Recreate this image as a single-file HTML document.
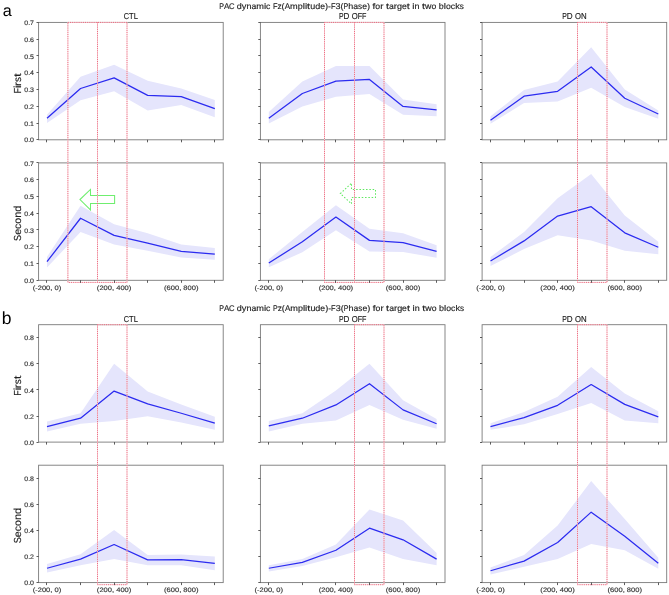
<!DOCTYPE html><html><head><meta charset="utf-8"><style>html,body{margin:0;padding:0;background:#fff;}svg{display:block;will-change:transform;}text{font-family:"Liberation Sans",sans-serif;text-rendering:geometricPrecision;}.k{stroke:currentColor;stroke-width:0.14px;}</style></head><body>
<svg width="669" height="595" viewBox="0 0 669 595">
<rect width="669" height="595" fill="#fff"/>
<text x="2.7" y="15.6" font-size="16.2" fill="#000">a</text>
<g transform="translate(219.3,8.8)" font-size="8.3" fill="#222" color="#222" class="k"><text transform="translate(0,0) scale(0.857,1)">P</text><text transform="translate(4.75,0) scale(0.972,1)">A</text><text transform="translate(9.63,0) scale(0.917,1)">C</text><text transform="translate(17.48,0) scale(1.082,1)">d</text><text transform="translate(22.48,0) scale(1.122,1)">y</text><text transform="translate(27.14,0) scale(1.081,1)">n</text><text transform="translate(32.13,0) scale(1.045,1)">a</text><text transform="translate(36.95,0) scale(1.109,1)">m</text><text transform="translate(44.61,0) scale(1.186,1)">i</text><text transform="translate(46.8,0) scale(1.043,1)">c</text><text transform="translate(53.63,0) scale(0.893,1)">F</text><text transform="translate(58.16,0) scale(0.995,1)">z</text><text transform="translate(62.29,0) scale(1.111,1)">(</text><text transform="translate(65.36,0) scale(0.972,1)">A</text><text transform="translate(70.74,0) scale(1.109,1)">m</text><text transform="translate(78.41,0) scale(1.082,1)">p</text><text transform="translate(83.4,0) scale(1.186,1)">l</text><text transform="translate(85.59,0) scale(1.186,1)">i</text><text transform="translate(87.78,0) scale(1.300,1)">t</text><text transform="translate(90.86,0) scale(1.081,1)">u</text><text transform="translate(95.85,0) scale(1.082,1)">d</text><text transform="translate(100.85,0) scale(1.049,1)">e</text><text transform="translate(105.69,0) scale(1.111,1)">)</text><text transform="translate(108.76,0) scale(1.027,1)">-</text><text transform="translate(111.6,0) scale(0.893,1)">F</text><text transform="translate(116.13,0) scale(1.085,1)">3</text><text transform="translate(121.13,0) scale(1.111,1)">(</text><text transform="translate(124.2,0) scale(0.857,1)">P</text><text transform="translate(128.95,0) scale(1.081,1)">h</text><text transform="translate(133.94,0) scale(1.045,1)">a</text><text transform="translate(138.76,0) scale(0.988,1)">s</text><text transform="translate(142.86,0) scale(1.049,1)">e</text><text transform="translate(147.7,0) scale(1.111,1)">)</text><text transform="translate(153.27,0) scale(1.201,1)">f</text><text transform="translate(156.04,0) scale(1.043,1)">o</text><text transform="translate(160.86,0) scale(1.171,1)">r</text><text transform="translate(166.6,0) scale(1.300,1)">t</text><text transform="translate(169.68,0) scale(1.045,1)">a</text><text transform="translate(174.51,0) scale(1.171,1)">r</text><text transform="translate(177.74,0) scale(1.082,1)">g</text><text transform="translate(182.6,0) scale(1.049,1)">e</text><text transform="translate(187.44,0) scale(1.300,1)">t</text><text transform="translate(193.03,0) scale(1.186,1)">i</text><text transform="translate(195.21,0) scale(1.081,1)">n</text><text transform="translate(202.7,0) scale(1.300,1)">t</text><text transform="translate(205.79,0) scale(1.074,1)">w</text><text transform="translate(212.23,0) scale(1.043,1)">o</text><text transform="translate(219.54,0) scale(1.082,1)">b</text><text transform="translate(224.54,0) scale(1.186,1)">l</text><text transform="translate(226.72,0) scale(1.043,1)">o</text><text transform="translate(231.54,0) scale(1.043,1)">c</text><text transform="translate(235.87,0) scale(1.098,1)">k</text><text transform="translate(240.42,0) scale(0.988,1)">s</text></g>
<polygon points="46.99,114.64 80.55,76.74 114.12,64.83 147.68,80.76 181.25,88.48 214.81,100.05 214.81,117.33 181.25,105.08 147.68,110.45 114.12,91.16 80.55,100.22 46.99,123.03" fill="#e5e5fc"/>
<polyline points="46.99,118.33 80.55,88.48 114.12,77.91 147.68,95.36 181.25,96.7 214.81,108.61" fill="none" stroke="#2b2bf0" stroke-width="1.25" stroke-linejoin="round"/>
<rect x="38.6" y="22.4" width="184.6" height="117.4" fill="none" stroke="#7a7a7a" stroke-width="0.9"/>
<g transform="translate(34,142.4)" font-size="6.4" fill="#333" color="#333" class="k"><text transform="translate(-9.78,0) scale(1.099,1)">0</text><text transform="translate(-5.87,0) scale(1.099,1)">.</text><text transform="translate(-3.91,0) scale(1.099,1)">0</text></g>
<g transform="translate(34,125.63)" font-size="6.4" fill="#333" color="#333" class="k"><text transform="translate(-9.78,0) scale(1.099,1)">0</text><text transform="translate(-5.87,0) scale(1.099,1)">.</text><text transform="translate(-3.91,0) scale(1.099,1)">1</text></g>
<g transform="translate(34,108.86)" font-size="6.4" fill="#333" color="#333" class="k"><text transform="translate(-9.78,0) scale(1.099,1)">0</text><text transform="translate(-5.87,0) scale(1.099,1)">.</text><text transform="translate(-3.91,0) scale(1.099,1)">2</text></g>
<g transform="translate(34,92.09)" font-size="6.4" fill="#333" color="#333" class="k"><text transform="translate(-9.78,0) scale(1.099,1)">0</text><text transform="translate(-5.87,0) scale(1.099,1)">.</text><text transform="translate(-3.91,0) scale(1.099,1)">3</text></g>
<g transform="translate(34,75.31)" font-size="6.4" fill="#333" color="#333" class="k"><text transform="translate(-9.78,0) scale(1.099,1)">0</text><text transform="translate(-5.87,0) scale(1.099,1)">.</text><text transform="translate(-3.91,0) scale(1.099,1)">4</text></g>
<g transform="translate(34,58.54)" font-size="6.4" fill="#333" color="#333" class="k"><text transform="translate(-9.78,0) scale(1.099,1)">0</text><text transform="translate(-5.87,0) scale(1.099,1)">.</text><text transform="translate(-3.91,0) scale(1.099,1)">5</text></g>
<g transform="translate(34,41.77)" font-size="6.4" fill="#333" color="#333" class="k"><text transform="translate(-9.78,0) scale(1.099,1)">0</text><text transform="translate(-5.87,0) scale(1.099,1)">.</text><text transform="translate(-3.91,0) scale(1.099,1)">6</text></g>
<g transform="translate(34,25)" font-size="6.4" fill="#333" color="#333" class="k"><text transform="translate(-9.78,0) scale(1.099,1)">0</text><text transform="translate(-5.87,0) scale(1.099,1)">.</text><text transform="translate(-3.91,0) scale(1.099,1)">7</text></g>
<g transform="translate(130.9,19.45)" font-size="8.6" fill="#222" color="#222" class="k"><text transform="translate(-7.09,0) scale(0.854,1)">C</text><text transform="translate(-1.78,0) scale(0.884,1)">T</text><text transform="translate(2.86,0) scale(0.885,1)">L</text></g>
<polygon points="268.79,111.96 302.35,81.6 335.92,66.01 369.48,66.01 403.05,99.55 436.61,104.24 436.61,116.15 403.05,114.64 369.48,94.01 335.92,96.87 302.35,106.42 268.79,123.53" fill="#e5e5fc"/>
<polyline points="268.79,118.33 302.35,93.51 335.92,81.1 369.48,79.42 403.05,106.42 436.61,109.78" fill="none" stroke="#2b2bf0" stroke-width="1.25" stroke-linejoin="round"/>
<rect x="260.4" y="22.4" width="184.6" height="117.4" fill="none" stroke="#7a7a7a" stroke-width="0.9"/>
<g transform="translate(352.7,19.45)" font-size="8.6" fill="#222" color="#222" class="k"><text transform="translate(-13.79,0) scale(0.800,1)">P</text><text transform="translate(-9.21,0) scale(0.942,1)">D</text><text transform="translate(-0.94,0) scale(0.894,1)">O</text><text transform="translate(5.04,0) scale(0.832,1)">F</text><text transform="translate(9.42,0) scale(0.832,1)">F</text></g>
<polygon points="490.49,116.15 524.05,89.99 557.62,81.6 591.18,47.22 624.75,89.49 658.31,110.62 658.31,118.84 624.75,106.93 591.18,87.81 557.62,101.56 524.05,102.9 490.49,123.87" fill="#e5e5fc"/>
<polyline points="490.49,120.18 524.05,96.19 557.62,91.33 591.18,67.01 624.75,98.21 658.31,113.97" fill="none" stroke="#2b2bf0" stroke-width="1.25" stroke-linejoin="round"/>
<rect x="482.1" y="22.4" width="184.6" height="117.4" fill="none" stroke="#7a7a7a" stroke-width="0.9"/>
<g transform="translate(574.4,19.45)" font-size="8.6" fill="#222" color="#222" class="k"><text transform="translate(-12.26,0) scale(0.800,1)">P</text><text transform="translate(-7.68,0) scale(0.942,1)">D</text><text transform="translate(0.59,0) scale(0.894,1)">O</text><text transform="translate(6.57,0) scale(0.915,1)">N</text></g>
<g transform="translate(20.6,83.4) rotate(-90)" font-size="10.2" fill="#222" color="#222" class="k"><text transform="translate(-10.1,0) scale(0.886,1)">F</text><text transform="translate(-4.58,0) scale(1.177,1)">i</text><text transform="translate(-2.61,0) scale(1.162,1)">r</text><text transform="translate(1.34,0) scale(0.981,1)">s</text><text transform="translate(6.34,0) scale(1.300,1)">t</text></g>
<polygon points="46.99,256.99 80.55,205.83 114.12,224.28 147.68,233.34 181.25,244.41 214.81,248.1 214.81,259.67 181.25,257.49 147.68,250.78 114.12,244.41 80.55,232 46.99,267.39" fill="#e5e5fc"/>
<polyline points="46.99,261.68 80.55,218.25 114.12,235.35 147.68,243.07 181.25,251.45 214.81,254.14" fill="none" stroke="#2b2bf0" stroke-width="1.25" stroke-linejoin="round"/>
<rect x="38.6" y="162.9" width="184.6" height="117.4" fill="none" stroke="#7a7a7a" stroke-width="0.9"/>
<g transform="translate(34,282.9)" font-size="6.4" fill="#333" color="#333" class="k"><text transform="translate(-9.78,0) scale(1.099,1)">0</text><text transform="translate(-5.87,0) scale(1.099,1)">.</text><text transform="translate(-3.91,0) scale(1.099,1)">0</text></g>
<g transform="translate(34,266.13)" font-size="6.4" fill="#333" color="#333" class="k"><text transform="translate(-9.78,0) scale(1.099,1)">0</text><text transform="translate(-5.87,0) scale(1.099,1)">.</text><text transform="translate(-3.91,0) scale(1.099,1)">1</text></g>
<g transform="translate(34,249.36)" font-size="6.4" fill="#333" color="#333" class="k"><text transform="translate(-9.78,0) scale(1.099,1)">0</text><text transform="translate(-5.87,0) scale(1.099,1)">.</text><text transform="translate(-3.91,0) scale(1.099,1)">2</text></g>
<g transform="translate(34,232.59)" font-size="6.4" fill="#333" color="#333" class="k"><text transform="translate(-9.78,0) scale(1.099,1)">0</text><text transform="translate(-5.87,0) scale(1.099,1)">.</text><text transform="translate(-3.91,0) scale(1.099,1)">3</text></g>
<g transform="translate(34,215.81)" font-size="6.4" fill="#333" color="#333" class="k"><text transform="translate(-9.78,0) scale(1.099,1)">0</text><text transform="translate(-5.87,0) scale(1.099,1)">.</text><text transform="translate(-3.91,0) scale(1.099,1)">4</text></g>
<g transform="translate(34,199.04)" font-size="6.4" fill="#333" color="#333" class="k"><text transform="translate(-9.78,0) scale(1.099,1)">0</text><text transform="translate(-5.87,0) scale(1.099,1)">.</text><text transform="translate(-3.91,0) scale(1.099,1)">5</text></g>
<g transform="translate(34,182.27)" font-size="6.4" fill="#333" color="#333" class="k"><text transform="translate(-9.78,0) scale(1.099,1)">0</text><text transform="translate(-5.87,0) scale(1.099,1)">.</text><text transform="translate(-3.91,0) scale(1.099,1)">6</text></g>
<g transform="translate(34,165.5)" font-size="6.4" fill="#333" color="#333" class="k"><text transform="translate(-9.78,0) scale(1.099,1)">0</text><text transform="translate(-5.87,0) scale(1.099,1)">.</text><text transform="translate(-3.91,0) scale(1.099,1)">7</text></g>
<g transform="translate(46.99,289.7)" font-size="6.5" fill="#333" color="#333" class="k"><text transform="translate(-14.26,0) scale(1.190,1)">(</text><text transform="translate(-11.69,0) scale(1.100,1)">-</text><text transform="translate(-9.31,0) scale(1.162,1)">2</text><text transform="translate(-5.11,0) scale(1.162,1)">0</text><text transform="translate(-0.91,0) scale(1.162,1)">0</text><text transform="translate(3.29,0) scale(1.162,1)">,</text><text transform="translate(7.49,0) scale(1.162,1)">0</text><text transform="translate(11.69,0) scale(1.190,1)">)</text></g>
<g transform="translate(114.12,289.7)" font-size="6.5" fill="#333" color="#333" class="k"><text transform="translate(-17.27,0) scale(1.190,1)">(</text><text transform="translate(-14.7,0) scale(1.162,1)">2</text><text transform="translate(-10.5,0) scale(1.162,1)">0</text><text transform="translate(-6.3,0) scale(1.162,1)">0</text><text transform="translate(-2.1,0) scale(1.162,1)">,</text><text transform="translate(2.1,0) scale(1.162,1)">4</text><text transform="translate(6.3,0) scale(1.162,1)">0</text><text transform="translate(10.5,0) scale(1.162,1)">0</text><text transform="translate(14.7,0) scale(1.190,1)">)</text></g>
<g transform="translate(181.25,289.7)" font-size="6.5" fill="#333" color="#333" class="k"><text transform="translate(-17.27,0) scale(1.190,1)">(</text><text transform="translate(-14.7,0) scale(1.162,1)">6</text><text transform="translate(-10.5,0) scale(1.162,1)">0</text><text transform="translate(-6.3,0) scale(1.162,1)">0</text><text transform="translate(-2.1,0) scale(1.162,1)">,</text><text transform="translate(2.1,0) scale(1.162,1)">8</text><text transform="translate(6.3,0) scale(1.162,1)">0</text><text transform="translate(10.5,0) scale(1.162,1)">0</text><text transform="translate(14.7,0) scale(1.190,1)">)</text></g>
<polygon points="268.79,259.17 302.35,232 335.92,205.16 369.48,228.64 403.05,233.34 436.61,245.25 436.61,257.83 403.05,251.96 369.48,251.45 335.92,230.15 302.35,252.29 268.79,267.22" fill="#e5e5fc"/>
<polyline points="268.79,263.03 302.35,241.73 335.92,217.07 369.48,240.38 403.05,242.56 436.61,251.45" fill="none" stroke="#2b2bf0" stroke-width="1.25" stroke-linejoin="round"/>
<rect x="260.4" y="162.9" width="184.6" height="117.4" fill="none" stroke="#7a7a7a" stroke-width="0.9"/>
<g transform="translate(268.79,289.7)" font-size="6.5" fill="#333" color="#333" class="k"><text transform="translate(-14.26,0) scale(1.190,1)">(</text><text transform="translate(-11.69,0) scale(1.100,1)">-</text><text transform="translate(-9.31,0) scale(1.162,1)">2</text><text transform="translate(-5.11,0) scale(1.162,1)">0</text><text transform="translate(-0.91,0) scale(1.162,1)">0</text><text transform="translate(3.29,0) scale(1.162,1)">,</text><text transform="translate(7.49,0) scale(1.162,1)">0</text><text transform="translate(11.69,0) scale(1.190,1)">)</text></g>
<g transform="translate(335.92,289.7)" font-size="6.5" fill="#333" color="#333" class="k"><text transform="translate(-17.27,0) scale(1.190,1)">(</text><text transform="translate(-14.7,0) scale(1.162,1)">2</text><text transform="translate(-10.5,0) scale(1.162,1)">0</text><text transform="translate(-6.3,0) scale(1.162,1)">0</text><text transform="translate(-2.1,0) scale(1.162,1)">,</text><text transform="translate(2.1,0) scale(1.162,1)">4</text><text transform="translate(6.3,0) scale(1.162,1)">0</text><text transform="translate(10.5,0) scale(1.162,1)">0</text><text transform="translate(14.7,0) scale(1.190,1)">)</text></g>
<g transform="translate(403.05,289.7)" font-size="6.5" fill="#333" color="#333" class="k"><text transform="translate(-17.27,0) scale(1.190,1)">(</text><text transform="translate(-14.7,0) scale(1.162,1)">6</text><text transform="translate(-10.5,0) scale(1.162,1)">0</text><text transform="translate(-6.3,0) scale(1.162,1)">0</text><text transform="translate(-2.1,0) scale(1.162,1)">,</text><text transform="translate(2.1,0) scale(1.162,1)">8</text><text transform="translate(6.3,0) scale(1.162,1)">0</text><text transform="translate(10.5,0) scale(1.162,1)">0</text><text transform="translate(14.7,0) scale(1.190,1)">)</text></g>
<polygon points="490.49,256.99 524.05,232 557.62,198.29 591.18,173.97 624.75,215.39 658.31,241.73 658.31,254.14 624.75,250.78 591.18,240.38 557.62,235.35 524.05,249.11 490.49,266.04" fill="#e5e5fc"/>
<polyline points="490.49,261.01 524.05,240.89 557.62,216.07 591.18,206.67 624.75,232.84 658.31,247.26" fill="none" stroke="#2b2bf0" stroke-width="1.25" stroke-linejoin="round"/>
<rect x="482.1" y="162.9" width="184.6" height="117.4" fill="none" stroke="#7a7a7a" stroke-width="0.9"/>
<g transform="translate(490.49,289.7)" font-size="6.5" fill="#333" color="#333" class="k"><text transform="translate(-14.26,0) scale(1.190,1)">(</text><text transform="translate(-11.69,0) scale(1.100,1)">-</text><text transform="translate(-9.31,0) scale(1.162,1)">2</text><text transform="translate(-5.11,0) scale(1.162,1)">0</text><text transform="translate(-0.91,0) scale(1.162,1)">0</text><text transform="translate(3.29,0) scale(1.162,1)">,</text><text transform="translate(7.49,0) scale(1.162,1)">0</text><text transform="translate(11.69,0) scale(1.190,1)">)</text></g>
<g transform="translate(557.62,289.7)" font-size="6.5" fill="#333" color="#333" class="k"><text transform="translate(-17.27,0) scale(1.190,1)">(</text><text transform="translate(-14.7,0) scale(1.162,1)">2</text><text transform="translate(-10.5,0) scale(1.162,1)">0</text><text transform="translate(-6.3,0) scale(1.162,1)">0</text><text transform="translate(-2.1,0) scale(1.162,1)">,</text><text transform="translate(2.1,0) scale(1.162,1)">4</text><text transform="translate(6.3,0) scale(1.162,1)">0</text><text transform="translate(10.5,0) scale(1.162,1)">0</text><text transform="translate(14.7,0) scale(1.190,1)">)</text></g>
<g transform="translate(624.75,289.7)" font-size="6.5" fill="#333" color="#333" class="k"><text transform="translate(-17.27,0) scale(1.190,1)">(</text><text transform="translate(-14.7,0) scale(1.162,1)">6</text><text transform="translate(-10.5,0) scale(1.162,1)">0</text><text transform="translate(-6.3,0) scale(1.162,1)">0</text><text transform="translate(-2.1,0) scale(1.162,1)">,</text><text transform="translate(2.1,0) scale(1.162,1)">8</text><text transform="translate(6.3,0) scale(1.162,1)">0</text><text transform="translate(10.5,0) scale(1.162,1)">0</text><text transform="translate(14.7,0) scale(1.190,1)">)</text></g>
<g transform="translate(20.6,223.3) rotate(-90)" font-size="10.2" fill="#222" color="#222" class="k"><text transform="translate(-17.66,0) scale(0.896,1)">S</text><text transform="translate(-11.57,0) scale(1.041,1)">e</text><text transform="translate(-5.66,0) scale(1.035,1)">c</text><text transform="translate(-0.39,0) scale(1.035,1)">o</text><text transform="translate(5.49,0) scale(1.073,1)">n</text><text transform="translate(11.57,0) scale(1.074,1)">d</text></g>
<path d="M80,199.5 L90.5,189.4 L90.5,195.5 L114.6,195.5 L114.6,203.5 L90.5,203.5 L90.5,209.9 Z" fill="none" stroke="#6fee6f" stroke-width="1.05"/>
<path d="M340.3,193.6 L351.5,183.1 L351.5,189.5 L375.5,189.5 L375.5,197.5 L351.5,197.5 L351.5,203.8 Z" fill="none" stroke="#5ee85e" stroke-width="1.05" stroke-dasharray="1.5 1.8"/>
<rect x="67.9" y="22.4" width="59.1" height="260" fill="none" stroke="#f9d3d8" stroke-width="0.85"/>
<rect x="324.5" y="22.4" width="59.5" height="260" fill="none" stroke="#f9d3d8" stroke-width="0.85"/>
<rect x="577.5" y="22.4" width="29.5" height="260" fill="none" stroke="#f9d3d8" stroke-width="0.85"/>
<path d="M97.5,22.4V282.4" stroke="#f9d3d8" stroke-width="0.85"/>
<path d="M354.5,22.4V282.4" stroke="#f9d3d8" stroke-width="0.85"/>
<rect x="67.9" y="22.4" width="59.1" height="260" fill="none" stroke="#e84a66" stroke-width="0.85" stroke-dasharray="0.9 1.25"/>
<rect x="324.5" y="22.4" width="59.5" height="260" fill="none" stroke="#e84a66" stroke-width="0.85" stroke-dasharray="0.9 1.25"/>
<rect x="577.5" y="22.4" width="29.5" height="260" fill="none" stroke="#e84a66" stroke-width="0.85" stroke-dasharray="0.9 1.25"/>
<path d="M97.5,22.4V282.4" stroke="#e84a66" stroke-width="0.85" stroke-dasharray="0.9 1.25"/>
<path d="M354.5,22.4V282.4" stroke="#e84a66" stroke-width="0.85" stroke-dasharray="0.9 1.25"/>
<text x="1.7" y="323.5" font-size="17.5" fill="#000">b</text>
<g transform="translate(219.3,311.1)" font-size="8.3" fill="#222" color="#222" class="k"><text transform="translate(0,0) scale(0.857,1)">P</text><text transform="translate(4.75,0) scale(0.972,1)">A</text><text transform="translate(9.63,0) scale(0.917,1)">C</text><text transform="translate(17.48,0) scale(1.082,1)">d</text><text transform="translate(22.48,0) scale(1.122,1)">y</text><text transform="translate(27.14,0) scale(1.081,1)">n</text><text transform="translate(32.13,0) scale(1.045,1)">a</text><text transform="translate(36.95,0) scale(1.109,1)">m</text><text transform="translate(44.61,0) scale(1.186,1)">i</text><text transform="translate(46.8,0) scale(1.043,1)">c</text><text transform="translate(53.63,0) scale(0.857,1)">P</text><text transform="translate(58.38,0) scale(0.995,1)">z</text><text transform="translate(62.51,0) scale(1.111,1)">(</text><text transform="translate(65.58,0) scale(0.972,1)">A</text><text transform="translate(70.96,0) scale(1.109,1)">m</text><text transform="translate(78.63,0) scale(1.082,1)">p</text><text transform="translate(83.62,0) scale(1.186,1)">l</text><text transform="translate(85.81,0) scale(1.186,1)">i</text><text transform="translate(88,0) scale(1.300,1)">t</text><text transform="translate(91.08,0) scale(1.081,1)">u</text><text transform="translate(96.07,0) scale(1.082,1)">d</text><text transform="translate(101.07,0) scale(1.049,1)">e</text><text transform="translate(105.91,0) scale(1.111,1)">)</text><text transform="translate(108.98,0) scale(1.027,1)">-</text><text transform="translate(111.82,0) scale(0.893,1)">F</text><text transform="translate(116.34,0) scale(1.085,1)">3</text><text transform="translate(121.35,0) scale(1.111,1)">(</text><text transform="translate(124.42,0) scale(0.857,1)">P</text><text transform="translate(129.17,0) scale(1.081,1)">h</text><text transform="translate(134.16,0) scale(1.045,1)">a</text><text transform="translate(138.98,0) scale(0.988,1)">s</text><text transform="translate(143.08,0) scale(1.049,1)">e</text><text transform="translate(147.92,0) scale(1.111,1)">)</text><text transform="translate(153.49,0) scale(1.201,1)">f</text><text transform="translate(156.26,0) scale(1.043,1)">o</text><text transform="translate(161.08,0) scale(1.171,1)">r</text><text transform="translate(166.82,0) scale(1.300,1)">t</text><text transform="translate(169.9,0) scale(1.045,1)">a</text><text transform="translate(174.72,0) scale(1.171,1)">r</text><text transform="translate(177.96,0) scale(1.082,1)">g</text><text transform="translate(182.82,0) scale(1.049,1)">e</text><text transform="translate(187.66,0) scale(1.300,1)">t</text><text transform="translate(193.25,0) scale(1.186,1)">i</text><text transform="translate(195.43,0) scale(1.081,1)">n</text><text transform="translate(202.92,0) scale(1.300,1)">t</text><text transform="translate(206.01,0) scale(1.074,1)">w</text><text transform="translate(212.44,0) scale(1.043,1)">o</text><text transform="translate(219.76,0) scale(1.082,1)">b</text><text transform="translate(224.76,0) scale(1.186,1)">l</text><text transform="translate(226.94,0) scale(1.043,1)">o</text><text transform="translate(231.76,0) scale(1.043,1)">c</text><text transform="translate(236.09,0) scale(1.098,1)">k</text><text transform="translate(240.64,0) scale(0.988,1)">s</text></g>
<polygon points="46.99,421.49 80.55,413.27 114.12,363.7 147.68,391.49 181.25,404.4 214.81,416.79 214.81,429.84 181.25,422.4 147.68,416.27 114.12,420.97 80.55,423.71 46.99,431.53" fill="#e5e5fc"/>
<polyline points="46.99,426.58 80.55,418.23 114.12,391.1 147.68,403.88 181.25,413.27 214.81,423.19" fill="none" stroke="#2b2bf0" stroke-width="1.25" stroke-linejoin="round"/>
<rect x="38.6" y="324.7" width="184.6" height="117.4" fill="none" stroke="#7a7a7a" stroke-width="0.9"/>
<g transform="translate(34,444.7)" font-size="6.4" fill="#333" color="#333" class="k"><text transform="translate(-9.78,0) scale(1.099,1)">0</text><text transform="translate(-5.87,0) scale(1.099,1)">.</text><text transform="translate(-3.91,0) scale(1.099,1)">0</text></g>
<g transform="translate(34,418.61)" font-size="6.4" fill="#333" color="#333" class="k"><text transform="translate(-9.78,0) scale(1.099,1)">0</text><text transform="translate(-5.87,0) scale(1.099,1)">.</text><text transform="translate(-3.91,0) scale(1.099,1)">2</text></g>
<g transform="translate(34,392.52)" font-size="6.4" fill="#333" color="#333" class="k"><text transform="translate(-9.78,0) scale(1.099,1)">0</text><text transform="translate(-5.87,0) scale(1.099,1)">.</text><text transform="translate(-3.91,0) scale(1.099,1)">4</text></g>
<g transform="translate(34,366.43)" font-size="6.4" fill="#333" color="#333" class="k"><text transform="translate(-9.78,0) scale(1.099,1)">0</text><text transform="translate(-5.87,0) scale(1.099,1)">.</text><text transform="translate(-3.91,0) scale(1.099,1)">6</text></g>
<g transform="translate(34,340.34)" font-size="6.4" fill="#333" color="#333" class="k"><text transform="translate(-9.78,0) scale(1.099,1)">0</text><text transform="translate(-5.87,0) scale(1.099,1)">.</text><text transform="translate(-3.91,0) scale(1.099,1)">8</text></g>
<g transform="translate(130.9,321.75)" font-size="8.6" fill="#222" color="#222" class="k"><text transform="translate(-7.09,0) scale(0.854,1)">C</text><text transform="translate(-1.78,0) scale(0.884,1)">T</text><text transform="translate(2.86,0) scale(0.885,1)">L</text></g>
<polygon points="268.79,420.97 302.35,413.27 335.92,390.57 369.48,363.7 403.05,400.23 436.61,419.01 436.61,428.79 403.05,419.66 369.48,404.92 335.92,420.45 302.35,423.71 268.79,431.53" fill="#e5e5fc"/>
<polyline points="268.79,425.92 302.35,418.23 335.92,404.92 369.48,383.66 403.05,409.88 436.61,423.71" fill="none" stroke="#2b2bf0" stroke-width="1.25" stroke-linejoin="round"/>
<rect x="260.4" y="324.7" width="184.6" height="117.4" fill="none" stroke="#7a7a7a" stroke-width="0.9"/>
<g transform="translate(352.7,321.75)" font-size="8.6" fill="#222" color="#222" class="k"><text transform="translate(-13.79,0) scale(0.800,1)">P</text><text transform="translate(-9.21,0) scale(0.942,1)">D</text><text transform="translate(-0.94,0) scale(0.894,1)">O</text><text transform="translate(5.04,0) scale(0.832,1)">F</text><text transform="translate(9.42,0) scale(0.832,1)">F</text></g>
<polygon points="490.49,423.19 524.05,412.1 557.62,396.71 591.18,367.09 624.75,393.44 658.31,411.32 658.31,423.19 624.75,420.45 591.18,402.97 557.62,414.05 524.05,424.36 490.49,429.84" fill="#e5e5fc"/>
<polyline points="490.49,426.58 524.05,417.71 557.62,405.31 591.18,384.57 624.75,404.4 658.31,416.79" fill="none" stroke="#2b2bf0" stroke-width="1.25" stroke-linejoin="round"/>
<rect x="482.1" y="324.7" width="184.6" height="117.4" fill="none" stroke="#7a7a7a" stroke-width="0.9"/>
<g transform="translate(574.4,321.75)" font-size="8.6" fill="#222" color="#222" class="k"><text transform="translate(-12.26,0) scale(0.800,1)">P</text><text transform="translate(-7.68,0) scale(0.942,1)">D</text><text transform="translate(0.59,0) scale(0.894,1)">O</text><text transform="translate(6.57,0) scale(0.915,1)">N</text></g>
<g transform="translate(20.6,385.7) rotate(-90)" font-size="10.2" fill="#222" color="#222" class="k"><text transform="translate(-10.1,0) scale(0.886,1)">F</text><text transform="translate(-4.58,0) scale(1.177,1)">i</text><text transform="translate(-2.61,0) scale(1.162,1)">r</text><text transform="translate(1.34,0) scale(0.981,1)">s</text><text transform="translate(6.34,0) scale(1.300,1)">t</text></g>
<polygon points="46.99,564.08 80.55,554.16 114.12,530.03 147.68,554.95 181.25,554.42 214.81,556.38 214.81,570.21 181.25,565.25 147.68,565.25 114.12,559.12 80.55,565.25 46.99,572.43" fill="#e5e5fc"/>
<polyline points="46.99,568.25 80.55,559.12 114.12,544.51 147.68,559.9 181.25,559.64 214.81,563.29" fill="none" stroke="#2b2bf0" stroke-width="1.25" stroke-linejoin="round"/>
<rect x="38.6" y="465.2" width="184.6" height="117.4" fill="none" stroke="#7a7a7a" stroke-width="0.9"/>
<g transform="translate(34,585.2)" font-size="6.4" fill="#333" color="#333" class="k"><text transform="translate(-9.78,0) scale(1.099,1)">0</text><text transform="translate(-5.87,0) scale(1.099,1)">.</text><text transform="translate(-3.91,0) scale(1.099,1)">0</text></g>
<g transform="translate(34,559.11)" font-size="6.4" fill="#333" color="#333" class="k"><text transform="translate(-9.78,0) scale(1.099,1)">0</text><text transform="translate(-5.87,0) scale(1.099,1)">.</text><text transform="translate(-3.91,0) scale(1.099,1)">2</text></g>
<g transform="translate(34,533.02)" font-size="6.4" fill="#333" color="#333" class="k"><text transform="translate(-9.78,0) scale(1.099,1)">0</text><text transform="translate(-5.87,0) scale(1.099,1)">.</text><text transform="translate(-3.91,0) scale(1.099,1)">4</text></g>
<g transform="translate(34,506.93)" font-size="6.4" fill="#333" color="#333" class="k"><text transform="translate(-9.78,0) scale(1.099,1)">0</text><text transform="translate(-5.87,0) scale(1.099,1)">.</text><text transform="translate(-3.91,0) scale(1.099,1)">6</text></g>
<g transform="translate(34,480.84)" font-size="6.4" fill="#333" color="#333" class="k"><text transform="translate(-9.78,0) scale(1.099,1)">0</text><text transform="translate(-5.87,0) scale(1.099,1)">.</text><text transform="translate(-3.91,0) scale(1.099,1)">8</text></g>
<g transform="translate(46.99,592)" font-size="6.5" fill="#333" color="#333" class="k"><text transform="translate(-14.26,0) scale(1.190,1)">(</text><text transform="translate(-11.69,0) scale(1.100,1)">-</text><text transform="translate(-9.31,0) scale(1.162,1)">2</text><text transform="translate(-5.11,0) scale(1.162,1)">0</text><text transform="translate(-0.91,0) scale(1.162,1)">0</text><text transform="translate(3.29,0) scale(1.162,1)">,</text><text transform="translate(7.49,0) scale(1.162,1)">0</text><text transform="translate(11.69,0) scale(1.190,1)">)</text></g>
<g transform="translate(114.12,592)" font-size="6.5" fill="#333" color="#333" class="k"><text transform="translate(-17.27,0) scale(1.190,1)">(</text><text transform="translate(-14.7,0) scale(1.162,1)">2</text><text transform="translate(-10.5,0) scale(1.162,1)">0</text><text transform="translate(-6.3,0) scale(1.162,1)">0</text><text transform="translate(-2.1,0) scale(1.162,1)">,</text><text transform="translate(2.1,0) scale(1.162,1)">4</text><text transform="translate(6.3,0) scale(1.162,1)">0</text><text transform="translate(10.5,0) scale(1.162,1)">0</text><text transform="translate(14.7,0) scale(1.190,1)">)</text></g>
<g transform="translate(181.25,592)" font-size="6.5" fill="#333" color="#333" class="k"><text transform="translate(-17.27,0) scale(1.190,1)">(</text><text transform="translate(-14.7,0) scale(1.162,1)">6</text><text transform="translate(-10.5,0) scale(1.162,1)">0</text><text transform="translate(-6.3,0) scale(1.162,1)">0</text><text transform="translate(-2.1,0) scale(1.162,1)">,</text><text transform="translate(2.1,0) scale(1.162,1)">8</text><text transform="translate(6.3,0) scale(1.162,1)">0</text><text transform="translate(10.5,0) scale(1.162,1)">0</text><text transform="translate(14.7,0) scale(1.190,1)">)</text></g>
<polygon points="268.79,565.25 302.35,559.12 335.92,544.51 369.48,509.42 403.05,520.38 436.61,552.99 436.61,565.25 403.05,559.12 369.48,547.51 335.92,557.16 302.35,566.03 268.79,571.51" fill="#e5e5fc"/>
<polyline points="268.79,568.25 302.35,562.38 335.92,550.25 369.48,528.2 403.05,539.81 436.61,559.12" fill="none" stroke="#2b2bf0" stroke-width="1.25" stroke-linejoin="round"/>
<rect x="260.4" y="465.2" width="184.6" height="117.4" fill="none" stroke="#7a7a7a" stroke-width="0.9"/>
<g transform="translate(268.79,592)" font-size="6.5" fill="#333" color="#333" class="k"><text transform="translate(-14.26,0) scale(1.190,1)">(</text><text transform="translate(-11.69,0) scale(1.100,1)">-</text><text transform="translate(-9.31,0) scale(1.162,1)">2</text><text transform="translate(-5.11,0) scale(1.162,1)">0</text><text transform="translate(-0.91,0) scale(1.162,1)">0</text><text transform="translate(3.29,0) scale(1.162,1)">,</text><text transform="translate(7.49,0) scale(1.162,1)">0</text><text transform="translate(11.69,0) scale(1.190,1)">)</text></g>
<g transform="translate(335.92,592)" font-size="6.5" fill="#333" color="#333" class="k"><text transform="translate(-17.27,0) scale(1.190,1)">(</text><text transform="translate(-14.7,0) scale(1.162,1)">2</text><text transform="translate(-10.5,0) scale(1.162,1)">0</text><text transform="translate(-6.3,0) scale(1.162,1)">0</text><text transform="translate(-2.1,0) scale(1.162,1)">,</text><text transform="translate(2.1,0) scale(1.162,1)">4</text><text transform="translate(6.3,0) scale(1.162,1)">0</text><text transform="translate(10.5,0) scale(1.162,1)">0</text><text transform="translate(14.7,0) scale(1.190,1)">)</text></g>
<g transform="translate(403.05,592)" font-size="6.5" fill="#333" color="#333" class="k"><text transform="translate(-17.27,0) scale(1.190,1)">(</text><text transform="translate(-14.7,0) scale(1.162,1)">6</text><text transform="translate(-10.5,0) scale(1.162,1)">0</text><text transform="translate(-6.3,0) scale(1.162,1)">0</text><text transform="translate(-2.1,0) scale(1.162,1)">,</text><text transform="translate(2.1,0) scale(1.162,1)">8</text><text transform="translate(6.3,0) scale(1.162,1)">0</text><text transform="translate(10.5,0) scale(1.162,1)">0</text><text transform="translate(14.7,0) scale(1.190,1)">)</text></g>
<polygon points="490.49,567.47 524.05,554.95 557.62,525.47 591.18,481.11 624.75,519.07 658.31,557.69 658.31,568.77 624.75,550.25 591.18,543.99 557.62,559.12 524.05,566.82 490.49,574.38" fill="#e5e5fc"/>
<polyline points="490.49,570.73 524.05,561.08 557.62,542.55 591.18,512.16 624.75,536.16 658.31,563.29" fill="none" stroke="#2b2bf0" stroke-width="1.25" stroke-linejoin="round"/>
<rect x="482.1" y="465.2" width="184.6" height="117.4" fill="none" stroke="#7a7a7a" stroke-width="0.9"/>
<g transform="translate(490.49,592)" font-size="6.5" fill="#333" color="#333" class="k"><text transform="translate(-14.26,0) scale(1.190,1)">(</text><text transform="translate(-11.69,0) scale(1.100,1)">-</text><text transform="translate(-9.31,0) scale(1.162,1)">2</text><text transform="translate(-5.11,0) scale(1.162,1)">0</text><text transform="translate(-0.91,0) scale(1.162,1)">0</text><text transform="translate(3.29,0) scale(1.162,1)">,</text><text transform="translate(7.49,0) scale(1.162,1)">0</text><text transform="translate(11.69,0) scale(1.190,1)">)</text></g>
<g transform="translate(557.62,592)" font-size="6.5" fill="#333" color="#333" class="k"><text transform="translate(-17.27,0) scale(1.190,1)">(</text><text transform="translate(-14.7,0) scale(1.162,1)">2</text><text transform="translate(-10.5,0) scale(1.162,1)">0</text><text transform="translate(-6.3,0) scale(1.162,1)">0</text><text transform="translate(-2.1,0) scale(1.162,1)">,</text><text transform="translate(2.1,0) scale(1.162,1)">4</text><text transform="translate(6.3,0) scale(1.162,1)">0</text><text transform="translate(10.5,0) scale(1.162,1)">0</text><text transform="translate(14.7,0) scale(1.190,1)">)</text></g>
<g transform="translate(624.75,592)" font-size="6.5" fill="#333" color="#333" class="k"><text transform="translate(-17.27,0) scale(1.190,1)">(</text><text transform="translate(-14.7,0) scale(1.162,1)">6</text><text transform="translate(-10.5,0) scale(1.162,1)">0</text><text transform="translate(-6.3,0) scale(1.162,1)">0</text><text transform="translate(-2.1,0) scale(1.162,1)">,</text><text transform="translate(2.1,0) scale(1.162,1)">8</text><text transform="translate(6.3,0) scale(1.162,1)">0</text><text transform="translate(10.5,0) scale(1.162,1)">0</text><text transform="translate(14.7,0) scale(1.190,1)">)</text></g>
<g transform="translate(20.6,525.6) rotate(-90)" font-size="10.2" fill="#222" color="#222" class="k"><text transform="translate(-17.66,0) scale(0.896,1)">S</text><text transform="translate(-11.57,0) scale(1.041,1)">e</text><text transform="translate(-5.66,0) scale(1.035,1)">c</text><text transform="translate(-0.39,0) scale(1.035,1)">o</text><text transform="translate(5.49,0) scale(1.073,1)">n</text><text transform="translate(11.57,0) scale(1.074,1)">d</text></g>
<rect x="97.5" y="324.7" width="29.5" height="260" fill="none" stroke="#f9d3d8" stroke-width="0.85"/>
<rect x="354.5" y="324.7" width="29.5" height="260" fill="none" stroke="#f9d3d8" stroke-width="0.85"/>
<rect x="577.5" y="324.7" width="29.5" height="260" fill="none" stroke="#f9d3d8" stroke-width="0.85"/>
<rect x="97.5" y="324.7" width="29.5" height="260" fill="none" stroke="#e84a66" stroke-width="0.85" stroke-dasharray="0.9 1.25"/>
<rect x="354.5" y="324.7" width="29.5" height="260" fill="none" stroke="#e84a66" stroke-width="0.85" stroke-dasharray="0.9 1.25"/>
<rect x="577.5" y="324.7" width="29.5" height="260" fill="none" stroke="#e84a66" stroke-width="0.85" stroke-dasharray="0.9 1.25"/>
<path d="M46.5,139.8v2.5 M80.5,139.8v2.5 M114.5,139.8v2.5 M147.5,139.8v2.5 M181.5,139.8v2.5 M214.5,139.8v2.5 M38.6,139.5h-2.1 M38.6,123.5h-2.1 M38.6,106.5h-2.1 M38.6,89.5h-2.1 M38.6,72.5h-2.1 M38.6,55.5h-2.1 M38.6,39.5h-2.1 M38.6,22.5h-2.1" stroke="#333" stroke-width="0.8" fill="none"/>
<path d="M268.5,139.8v2.5 M302.5,139.8v2.5 M335.5,139.8v2.5 M369.5,139.8v2.5 M403.5,139.8v2.5 M436.5,139.8v2.5 M260.4,139.5h-2.1 M260.4,123.5h-2.1 M260.4,106.5h-2.1 M260.4,89.5h-2.1 M260.4,72.5h-2.1 M260.4,55.5h-2.1 M260.4,39.5h-2.1 M260.4,22.5h-2.1" stroke="#333" stroke-width="0.8" fill="none"/>
<path d="M490.5,139.8v2.5 M524.5,139.8v2.5 M557.5,139.8v2.5 M591.5,139.8v2.5 M624.5,139.8v2.5 M658.5,139.8v2.5 M482.1,139.5h-2.1 M482.1,123.5h-2.1 M482.1,106.5h-2.1 M482.1,89.5h-2.1 M482.1,72.5h-2.1 M482.1,55.5h-2.1 M482.1,39.5h-2.1 M482.1,22.5h-2.1" stroke="#333" stroke-width="0.8" fill="none"/>
<path d="M46.5,280.3v2.5 M80.5,280.3v2.5 M114.5,280.3v2.5 M147.5,280.3v2.5 M181.5,280.3v2.5 M214.5,280.3v2.5 M38.6,280.5h-2.1 M38.6,263.5h-2.1 M38.6,246.5h-2.1 M38.6,229.5h-2.1 M38.6,213.5h-2.1 M38.6,196.5h-2.1 M38.6,179.5h-2.1 M38.6,162.5h-2.1" stroke="#333" stroke-width="0.8" fill="none"/>
<path d="M268.5,280.3v2.5 M302.5,280.3v2.5 M335.5,280.3v2.5 M369.5,280.3v2.5 M403.5,280.3v2.5 M436.5,280.3v2.5 M260.4,280.5h-2.1 M260.4,263.5h-2.1 M260.4,246.5h-2.1 M260.4,229.5h-2.1 M260.4,213.5h-2.1 M260.4,196.5h-2.1 M260.4,179.5h-2.1 M260.4,162.5h-2.1" stroke="#333" stroke-width="0.8" fill="none"/>
<path d="M490.5,280.3v2.5 M524.5,280.3v2.5 M557.5,280.3v2.5 M591.5,280.3v2.5 M624.5,280.3v2.5 M658.5,280.3v2.5 M482.1,280.5h-2.1 M482.1,263.5h-2.1 M482.1,246.5h-2.1 M482.1,229.5h-2.1 M482.1,213.5h-2.1 M482.1,196.5h-2.1 M482.1,179.5h-2.1 M482.1,162.5h-2.1" stroke="#333" stroke-width="0.8" fill="none"/>
<path d="M46.5,442.1v2.5 M80.5,442.1v2.5 M114.5,442.1v2.5 M147.5,442.1v2.5 M181.5,442.1v2.5 M214.5,442.1v2.5 M38.6,442.5h-2.1 M38.6,416.5h-2.1 M38.6,389.5h-2.1 M38.6,363.5h-2.1 M38.6,337.5h-2.1" stroke="#333" stroke-width="0.8" fill="none"/>
<path d="M268.5,442.1v2.5 M302.5,442.1v2.5 M335.5,442.1v2.5 M369.5,442.1v2.5 M403.5,442.1v2.5 M436.5,442.1v2.5 M260.4,442.5h-2.1 M260.4,416.5h-2.1 M260.4,389.5h-2.1 M260.4,363.5h-2.1 M260.4,337.5h-2.1" stroke="#333" stroke-width="0.8" fill="none"/>
<path d="M490.5,442.1v2.5 M524.5,442.1v2.5 M557.5,442.1v2.5 M591.5,442.1v2.5 M624.5,442.1v2.5 M658.5,442.1v2.5 M482.1,442.5h-2.1 M482.1,416.5h-2.1 M482.1,389.5h-2.1 M482.1,363.5h-2.1 M482.1,337.5h-2.1" stroke="#333" stroke-width="0.8" fill="none"/>
<path d="M46.5,582.6v2.5 M80.5,582.6v2.5 M114.5,582.6v2.5 M147.5,582.6v2.5 M181.5,582.6v2.5 M214.5,582.6v2.5 M38.6,582.5h-2.1 M38.6,556.5h-2.1 M38.6,530.5h-2.1 M38.6,504.5h-2.1 M38.6,478.5h-2.1" stroke="#333" stroke-width="0.8" fill="none"/>
<path d="M268.5,582.6v2.5 M302.5,582.6v2.5 M335.5,582.6v2.5 M369.5,582.6v2.5 M403.5,582.6v2.5 M436.5,582.6v2.5 M260.4,582.5h-2.1 M260.4,556.5h-2.1 M260.4,530.5h-2.1 M260.4,504.5h-2.1 M260.4,478.5h-2.1" stroke="#333" stroke-width="0.8" fill="none"/>
<path d="M490.5,582.6v2.5 M524.5,582.6v2.5 M557.5,582.6v2.5 M591.5,582.6v2.5 M624.5,582.6v2.5 M658.5,582.6v2.5 M482.1,582.5h-2.1 M482.1,556.5h-2.1 M482.1,530.5h-2.1 M482.1,504.5h-2.1 M482.1,478.5h-2.1" stroke="#333" stroke-width="0.8" fill="none"/>
</svg></body></html>
